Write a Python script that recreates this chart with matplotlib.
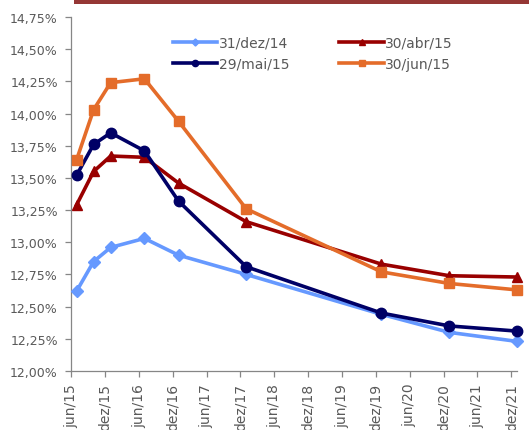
import matplotlib
matplotlib.use("Agg")
import matplotlib.pyplot as plt
from matplotlib.patches import Rectangle
import pandas as pd
import numpy as np

dates = pd.to_datetime(['2015-07-01', '2015-10-01', '2016-01-01', '2016-07-01', '2017-01-01',
                        '2018-01-01', '2020-01-01', '2021-01-01', '2022-01-01'])
s_dez14 = [12.62, 12.85, 12.96, 13.03, 12.90, 12.75, 12.44, 12.30, 12.23]
s_abr15 = [13.29, 13.55, 13.67, 13.66, 13.46, 13.16, 12.83, 12.74, 12.73]
s_mai15 = [13.52, 13.76, 13.85, 13.71, 13.32, 12.81, 12.45, 12.35, 12.31]
s_jun15 = [13.64, 14.03, 14.24, 14.27, 13.94, 13.26, 12.77, 12.68, 12.63]
series_labels = ['31/dez/14', '30/abr/15', '29/mai/15', '30/jun/15']
tick_dates = pd.date_range('2015-06-01', '2021-12-01', freq='6MS')
tick_labels = ['jun/15', 'dez/15', 'jun/16', 'dez/16', 'jun/17', 'dez/17', 'jun/18',
               'dez/18', 'jun/19', 'dez/19', 'jun/20', 'dez/20', 'jun/21', 'dez/21']
y_ticks = np.arange(12.0, 14.76, 0.25)

W, H = 529, 431
fig = plt.figure(figsize=(W / 100, H / 100), dpi=100)
ax = fig.add_axes([71 / W, 1 - 372 / H, (517 - 71) / W, (372 - 18) / H])

styles = [
    (s_dez14, '#6699FF', 'D', 6),
    (s_abr15, '#990000', '^', 7),
    (s_mai15, '#000066', 'o', 7.5),
    (s_jun15, '#E46C2A', 's', 7),
]
handles = []
for (vals, col, mk, ms), lab in zip(styles, series_labels):
    h, = ax.plot(dates, vals, color=col, marker=mk, markersize=ms, linewidth=2.6,
                 label=lab, clip_on=False, zorder=3)
    handles.append(h)

ax.set_xlim(pd.Timestamp('2015-06-01'), pd.Timestamp('2022-01-01'))
ax.set_ylim(12.0, 14.75)
ax.set_yticks(y_ticks)
ax.set_yticklabels([f"{v:.2f}".replace('.', ',') + '%' for v in y_ticks])
ax.set_xticks(tick_dates)
ax.set_xticklabels(tick_labels, rotation=90)

txt = '#595959'
for sp in ['top', 'right']:
    ax.spines[sp].set_visible(False)
for sp in ['left', 'bottom']:
    ax.spines[sp].set_color('#868686')
    ax.spines[sp].set_linewidth(0.9)
ax.tick_params(axis='both', colors='#868686', labelcolor=txt, length=4.5, width=0.9)
ax.tick_params(axis='y', labelsize=9, pad=5)
ax.tick_params(axis='x', labelsize=10, pad=4)

# order for legend: row1: dez14, abr15 ; row2: mai15, jun15 (ncol fills column-wise)
order = [0, 2, 1, 3]
leg = fig.legend([handles[i] for i in order], [series_labels[i] for i in order],
                 ncol=2, frameon=False, loc='upper left', bbox_to_anchor=(166 / W, 1 - 30 / H),
                 borderpad=0, handlelength=3.2, handletextpad=0.1, columnspacing=3.6,
                 labelspacing=0.5, fontsize=10, markerscale=0.6)
for t in leg.get_texts():
    t.set_color(txt)

fig.patches.append(Rectangle((74 / W, 1 - 5 / H), 1 - 74 / W, 5 / H, transform=fig.transFigure,
                             facecolor='#953735', edgecolor='none'))

fig.savefig('out.png', dpi=100)
